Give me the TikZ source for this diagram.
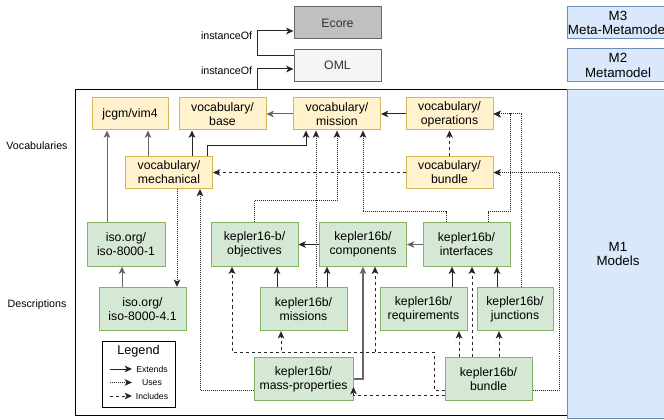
\documentclass[tikz,border=0pt]{standalone}
\usepackage{fontspec}
\setmainfont{Liberation Sans}
\usetikzlibrary{arrows.meta}
\definecolor{vocfill}{HTML}{FFF2CC}
\definecolor{vocline}{HTML}{D6B656}
\definecolor{descfill}{HTML}{D5E8D4}
\definecolor{descline}{HTML}{82B366}
\definecolor{levfill}{HTML}{DAE8FC}
\definecolor{levline}{HTML}{6C8EBF}
\definecolor{ecorefill}{HTML}{C0C0C0}
\definecolor{omlfill}{HTML}{F5F5F5}
\definecolor{greyline}{HTML}{666666}
\definecolor{greytext}{HTML}{333333}

\begin{document}
\begin{tikzpicture}[x=0.75pt, y=-0.75pt,
		box/.style={draw, line width=0.75pt, inner sep=0pt, align=center, font=\fontsize{9.2}{10.5}\selectfont, minimum width=65.25pt},
		vocbox/.style={box, fill=vocfill, draw=vocline, minimum height=24pt},
		descbox/.style={box, fill=descfill, draw=descline, minimum height=32.5pt},
		metabox/.style={box, draw=greyline, text=greytext, minimum height=24pt},
		levelbox/.style={box, fill=levfill, draw=levline, minimum width=76.5pt, font=\fontsize{10}{11}\selectfont},
		link/.style={line width=0.75pt, draw=black!85, -{Stealth[length=5.5pt,width=5pt,inset=1.5pt]}},
		extends/.style={link},
		uses/.style={link, dash pattern=on 0.75pt off 0.75pt},
		includes/.style={link, dash pattern=on 2.25pt off 2.25pt},
		side/.style={font=\fontsize{8}{9.5}\selectfont}]
			\clip (0,0) rectangle (664,420);

			% niveaux
			\node[draw, line width=0.75pt, minimum width=369pt, minimum height=243.75pt] (models) at (321,252.5) {};
			\node[levelbox, minimum height=24pt] (m3) at (618,23) {M3\\Meta-Metamodel};
			\node[levelbox, minimum height=24.75pt] (m2) at (618,65.5) {M2\\Metamodel};
			\node[levelbox, minimum height=246pt] (m1) at (618,254) {M1\\Models};
			\node[side] (vocs) at (37,146) {Vocabularies};
			\node[side] (descs) at (37,305) {Descriptions};

			% metamodeles
			\node[metabox, fill=ecorefill] (ecore) at (337.5,23) {Ecore};
			\node[metabox, fill=omlfill] (oml) at (337.5,65.5) {OML};

			% vocabulaires
			\node[vocbox, minimum width=57pt] (vim4) at (130,114) {jcgm/vim4};
			\node[vocbox] (base) at (222.5,114) {vocabulary/\\base};
			\node[vocbox] (mission) at (337,114) {vocabulary/\\mission};
			\node[vocbox] (ops) at (449.5,114) {vocabulary/\\operations};
			\node[vocbox] (mech) at (169,172.5) {vocabulary/\\mechanical};
			\node[vocbox] (vbundle) at (449.5,172.5) {vocabulary/\\bundle};

			% descriptions
			\node[descbox, minimum width=58.5pt] (iso1) at (126,244.5) {iso.org/\\iso-8000-1};
			\node[descbox] (iso41) at (142.5,309) {iso.org/\\iso-8000-4.1};
			\node[descbox] (obj) at (254.5,244.5) {kepler16-b/\\objectives};
			\node[descbox] (comp) at (363,244.5) {kepler16b/\\components};
			\node[descbox] (intf) at (466.5,244.5) {kepler16b/\\interfaces};
			\node[descbox] (missions) at (303.5,309) {kepler16b/\\missions};
			\node[descbox] (req) at (423.5,309) {kepler16b/\\requirements};
			\node[descbox, minimum width=57pt] (junc) at (515,309) {kepler16b/\\junctions};
			\node[descbox, minimum width=74.25pt] (mass) at (303.5,379) {kepler16b/\\mass-properties};
			\node[descbox] (kbundle) at (488.5,379) {kepler16b/\\bundle};

			% legende
			\node[draw, line width=0.75pt, minimum width=54.75pt, minimum height=49.5pt] (legend) at (138.5,374) {};
			\node[font=\fontsize{9.5}{10}\selectfont] (legtitle) at (138.5,351) {Legend};
			\foreach \sty/\lab [count=\i] in {extends/Extends, uses/Uses, includes/Includes} {
				\pgfmathsetmacro{\ly}{369 + (\i-1)*13.5}
				\node[font=\fontsize{6.5}{7}\selectfont] (leg\i) at (152,\ly) {\lab};
				\draw[\sty] (110,\ly) -- (132,\ly);
			}

			% instanceOf
			\draw[extends] (oml.west |- 0,56) -- (257,56) |- node[side, pos=0.4, left] {instanceOf} (ecore.west |- 0,31);
			\draw[extends] (models.north -| 257,0) |- node[side, pos=0.45, left] {instanceOf} (oml.west |- 0,69);

			% extends
			\draw[extends, draw=greyline] (iso1.north -| 107,0) -- (vim4.south -| 107,0);
			\draw[extends, draw=greyline] (iso41.north -| 122,0) -- (iso1.south -| 122,0);
			\draw[extends, draw=greyline] (mech.north -| 148,0) -- (vim4.south -| 148,0);
			\draw[extends] (mech.north -| 192,0) -- (base.south -| 192,0);
			\draw[extends] (mech.north -| 207,0) |- (306,146) -- (mission.south -| 306,0);
			\draw[extends, draw=greyline] (mission.west) -- (base.east);
			\draw[extends] (ops.west) -- (mission.east);
			\draw[extends, line width=1.2pt] (comp.west) -- (obj.east);
			\draw[extends, draw=greyline] (intf.west) -- (comp.east);
			\draw[extends] (missions.north -| 277,0) -- (obj.south -| 277,0);
			\draw[extends] (missions.north -| 327,0) -- (comp.south -| 327,0);
			\draw[extends, draw=greyline, line width=1.1pt] (mass.east) -| (comp.south);
			\draw[extends] (req.north -| 452,0) -- (intf.south -| 452,0);
			\draw[extends] (junc.north -| 497,0) -- (intf.south -| 497,0);

			% uses
			\draw[uses] (mech.south -| 177,0) -- (iso41.north -| 177,0);
			\draw[uses] (mass.west |- 0,390) -| (mech.south -| 200,0);
			\draw[uses] (obj.north -| 254,0) |- (337,201) -- (mission.south -| 337,0);
			\draw[uses] (missions.north -| 316,0) -- (mission.south -| 316,0);
			\draw[uses] (intf.north -| 446,0) |- (363,212) -- (mission.south -| 363,0);
			\draw[uses] (intf.north -| 488,0) |- (510,212) |- (ops.east);
			\draw[uses] (junc.north -| 521,0) |- (ops.east);
			\draw[uses] (kbundle.east |- 0,390) -| (559,172.5) -- (vbundle.east);

			% includes
			\draw[includes] (vbundle.north) -- (ops.south);
			\draw[includes] (vbundle.west) -- (mech.east);
			\foreach \tgt/\xx in {obj/232, missions/281, comp/375}
				\draw[includes] (kbundle.west |- 0,390) -| (434,352) -| (\tgt.south -| \xx,0);
			\draw[includes] (kbundle.west |- 0,395) -| (mass.east |- 0,387);
			\foreach \tgt/\xx in {req/459, intf/472, junc/499}
				\draw[includes] (kbundle.north -| \xx,0) -- (\tgt.south -| \xx,0);
		\end{tikzpicture}
\end{document}
